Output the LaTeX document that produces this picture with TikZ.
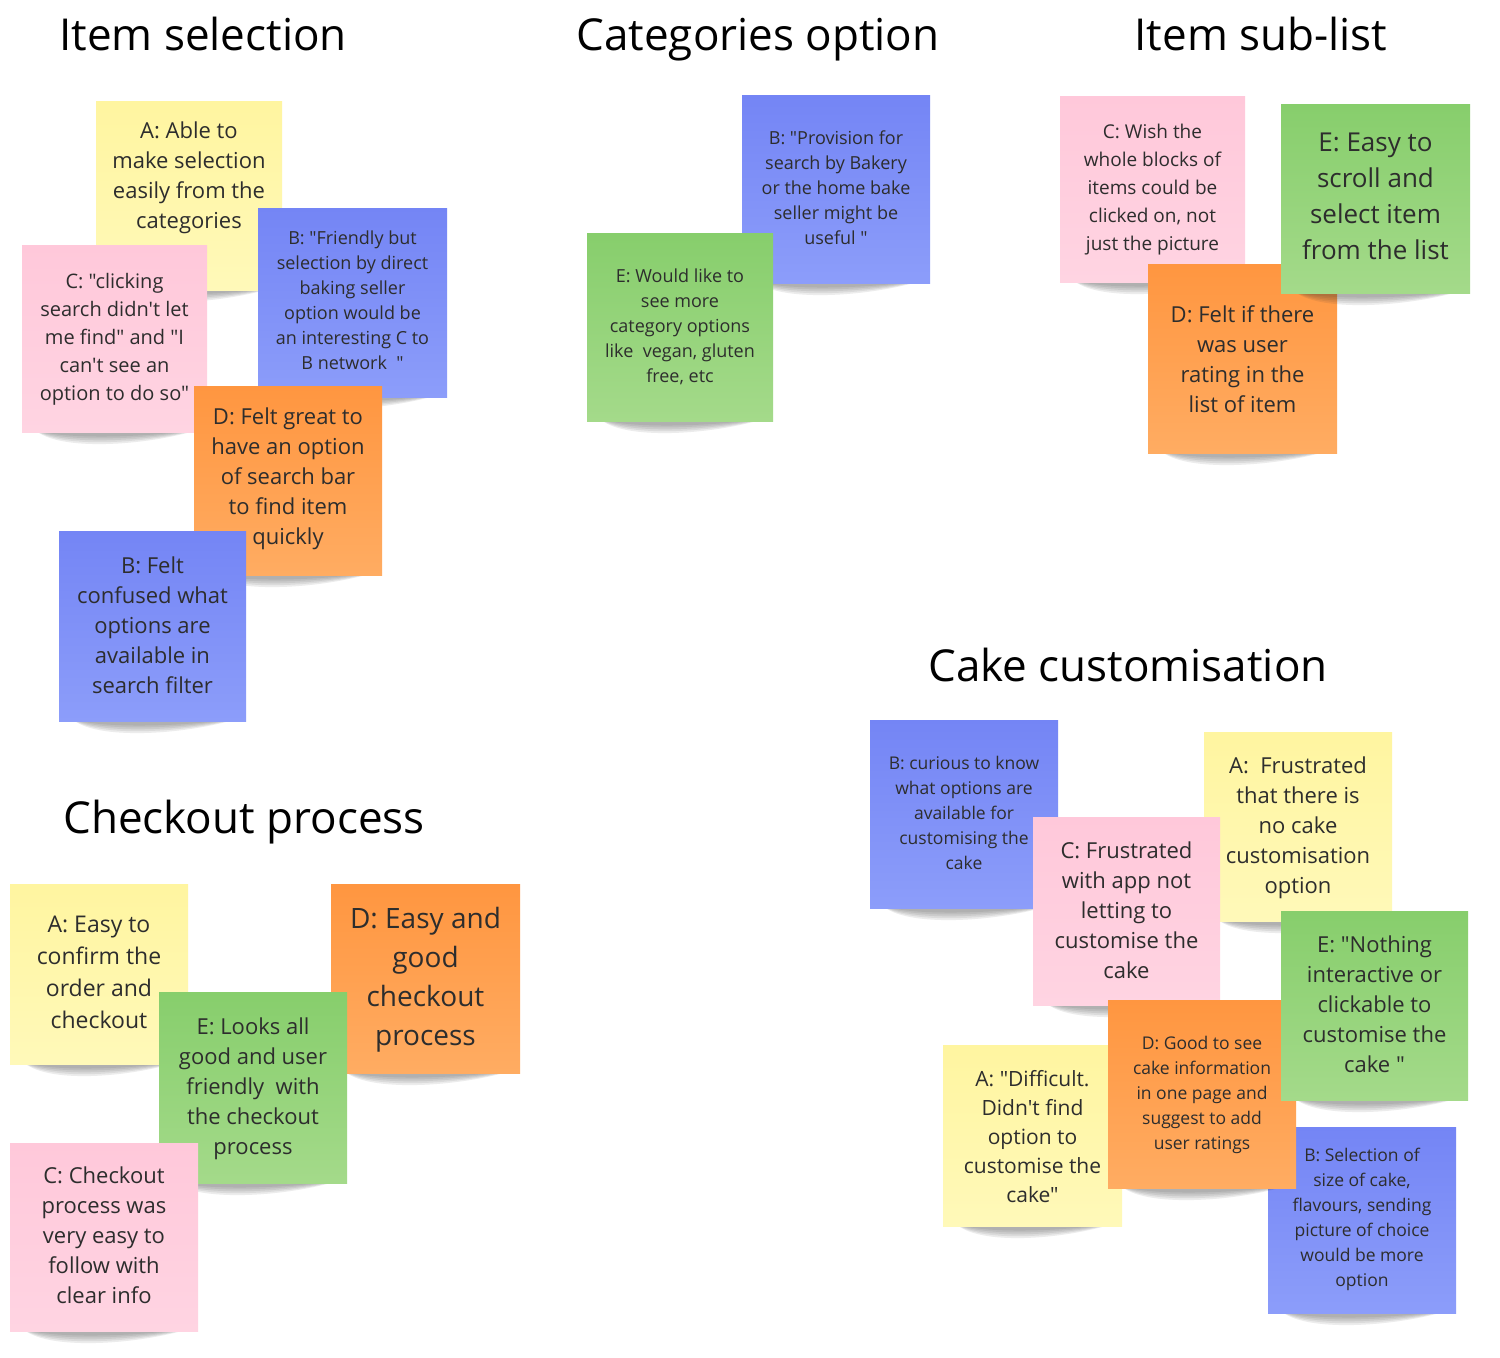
\documentclass[tikz,border=0pt]{standalone}
\usepackage{fontspec}
\newfontfamily\notefont{Open Sans}
\newfontfamily\titlefont{Open Sans}
\usetikzlibrary{calc}
\definecolor{txt}{RGB}{45,45,45}
\definecolor{yelT}{RGB}{255,245,160}\definecolor{yelB}{RGB}{255,249,185}
\definecolor{pinkT}{RGB}{255,200,218}\definecolor{pinkB}{RGB}{255,212,226}
\definecolor{bluT}{RGB}{116,133,245}\definecolor{bluB}{RGB}{140,157,250}
\definecolor{orT}{RGB}{255,150,64}\definecolor{orB}{RGB}{255,172,98}
\definecolor{grT}{RGB}{135,206,108}\definecolor{grB}{RGB}{164,218,138}
\definecolor{shad}{RGB}{50,50,50}
\tikzset{
  notebox/.style={inner sep=0pt, outer sep=0pt, draw=none, rectangle},
  nYel/.style={top color=yelT, bottom color=yelB},
  nPink/.style={top color=pinkT, bottom color=pinkB},
  nBlue/.style={top color=bluT, bottom color=bluB},
  nOr/.style={top color=orT, bottom color=orB},
  nGr/.style={top color=grT, bottom color=grB},
  notetext/.style={inner sep=0pt, align=center, text=txt, anchor=north},
  title/.style={font=\titlefont\fontsize{44}{52}\selectfont, text=black, anchor=base, inner sep=0pt}
}
% #1 name #2 colour style #3 x1 #4 y1 #5 x2 #6 y2 #7 text top #8 font {size}{skip} #9 text
\newcommand\stick[9]{%
  \foreach \k in {1,...,5}{%
    \fill[shad, opacity=0.09] ({#3+12},{#6-3}) .. controls ({#3+35},{#6+5+3*\k}) and ({#5-60},{#6+4+2*\k}) .. ({#5-6},{#6-3}) -- cycle;}
  \node[notebox, #2, minimum width={#5-#3}, minimum height={#6-#4}, anchor=north west] (#1) at (#3,#4) {};
  \node[notetext, font=\notefont\fontsize#8\selectfont] (#1-t) at ({(#3+#5)/2},{#7+4}) {#9};
}
\begin{document}
\begin{tikzpicture}[x=1pt,y=-1pt]
\useasboundingbox[fill=white] (0,0) rectangle (1500,1358);
% titles
\node[title] (t1) at (203,50) {Item selection};
\node[title] (t2) at (758,50) {Categories option};
\node[title] (t3) at (1261,50) {Item sub-list};
\node[title] (t4) at (1128,681) {Cake customisation};
\node[title] (t5) at (244,833) {Checkout process};
% Item selection
\stick{isA}{nYel}{96}{101}{282}{290}{118}{{22}{30}}{A: Able to\\make selection\\easily from the\\categories}
\stick{isC}{nPink}{22}{245}{207}{432}{269}{{20}{28}}{C: "clicking\\search didn't let\\me find" and "I\\can't see an\\option to do so"}
\stick{isB}{nBlue}{258}{208}{447}{397}{227}{{18}{25}}{B: "Friendly but\\selection by direct\\baking seller\\option would be\\an interesting C to\\B network\ \ "}
\stick{isD}{nOr}{194}{386}{382}{575}{404}{{22}{30}}{D: Felt great to\\have an option\\of search bar\\to find item\\quickly}
\stick{isB2}{nBlue}{59}{531}{246}{721}{553}{{22}{30}}{B: Felt\\confused what\\options are\\available in\\search filter}
% Categories option
\stick{caB}{nBlue}{742}{95}{930}{283}{127}{{18}{25}}{B: "Provision for\\search by Bakery\\or the home bake\\seller might be\\useful "}
\stick{caE}{nGr}{587}{233}{773}{421}{265}{{18}{25}}{E: Would like to\\see more\\category options\\like\ \ vegan, gluten\\free, etc}
% Item sub-list
\stick{suC}{nPink}{1060}{96}{1245}{282}{120}{{19}{28}}{C: Wish the\\whole blocks of\\items could be\\clicked on, not\\just the picture}
\stick{suD}{nOr}{1148}{264}{1337}{453}{301}{{22}{30}}{D: Felt if there\\was user\\rating in the\\list of item}
\stick{suE}{nGr}{1281}{104}{1470}{293}{129}{{26}{36}}{E: Easy to\\scroll and\\select item\\from the list}
% Checkout process
\stick{coA}{nYel}{10}{884}{188}{1064}{912}{{23}{32}}{A: Easy to\\confirm the\\order and\\checkout}
\stick{coD}{nOr}{331}{884}{520}{1073}{903}{{28}{39}}{D: Easy and\\good\\checkout\\process}
\stick{coE}{nGr}{159}{992}{347}{1183}{1014}{{22}{30}}{E: Looks all\\good and user\\friendly\ \ with\\the checkout\\process}
\stick{coC}{nPink}{10}{1143}{198}{1331}{1163}{{22}{30}}{C: Checkout\\process was\\very easy to\\follow with\\clear info}
% Cake customisation
\stick{ccB}{nBlue}{870}{720}{1058}{908}{752}{{17.5}{25}}{B: curious to know\\what options are\\available for\\customising the\\cake}
\stick{ccA}{nYel}{1204}{732}{1392}{921}{753}{{22}{30}}{A:\ \ Frustrated\\that there is\\no cake\\customisation\\option}
\stick{ccC}{nPink}{1033}{817}{1220}{1005}{838}{{22}{30}}{C: Frustrated\\with app not\\letting to\\customise the\\cake}
\stick{ccB3}{nBlue}{1268}{1127}{1456}{1313}{1144}{{17.5}{25}}{B: Selection of\\size of cake,\\flavours, sending\\picture of choice\\would be more\\option}
\stick{ccA2}{nYel}{943}{1045}{1122}{1226}{1066}{{21}{29}}{A: "Difficult.\\Didn't find\\option to\\customise the\\cake"}
\stick{ccD}{nOr}{1108}{1000}{1296}{1188}{1032}{{17.5}{25}}{D: Good to see\\cake information\\in one page and\\suggest to add\\user ratings}
\stick{ccE}{nGr}{1281}{911}{1468}{1100}{932}{{22}{30}}{E: "Nothing\\interactive or\\clickable to\\customise the\\cake "}
\end{tikzpicture}
\end{document}
